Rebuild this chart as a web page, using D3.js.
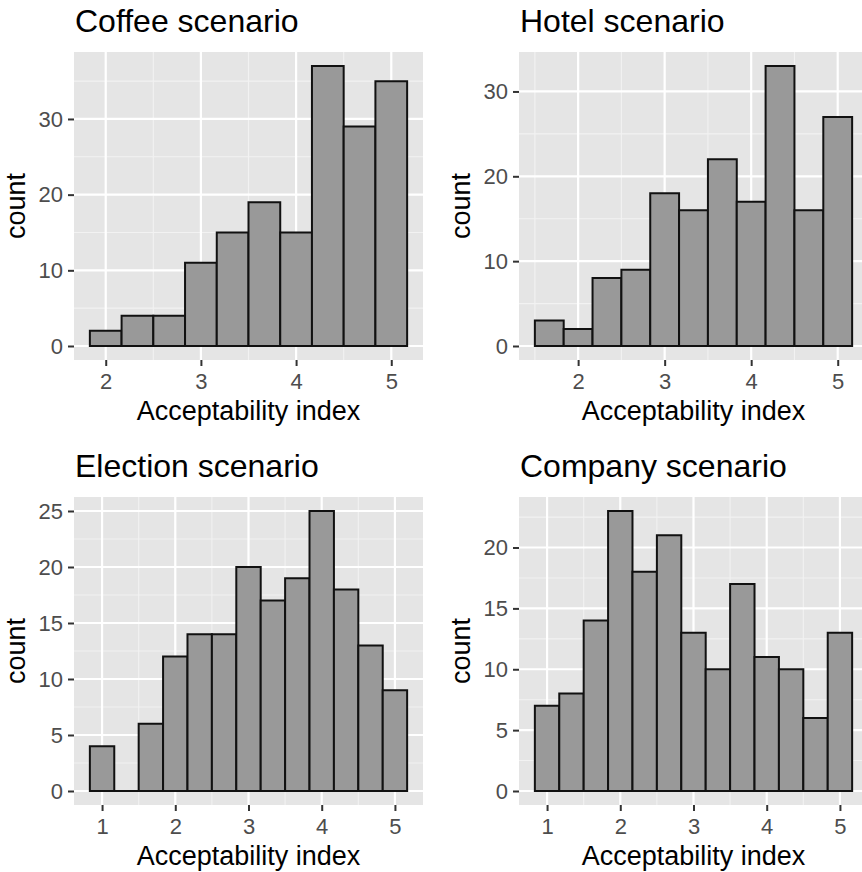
<!DOCTYPE html>
<html>
<head>
<meta charset="utf-8">
<script src="https://cdn.jsdelivr.net/npm/d3@7"></script>
<style>
  body { margin: 0; background: #fff; }
  svg { display: block; font-family: "Liberation Sans", Arial, sans-serif; }
</style>
</head>
<body>
<script>
// histogram bins (centres) and counts
var binWidth = 1 / 3;

var coffeeBins = [2, 2.3333, 2.6667, 3, 3.3333, 3.6667, 4, 4.3333, 4.6667, 5];
var coffeeCounts = [2, 4, 4, 11, 15, 19, 15, 37, 29, 35];

var hotelBins = [1.6667, 2, 2.3333, 2.6667, 3, 3.3333, 3.6667, 4, 4.3333, 4.6667, 5];
var hotelCounts = [3, 2, 8, 9, 18, 16, 22, 17, 33, 16, 27];

var electionBins = [1, 1.3333, 1.6667, 2, 2.3333, 2.6667, 3, 3.3333, 3.6667, 4, 4.3333, 4.6667, 5];
var electionCounts = [4, 0, 6, 12, 14, 14, 20, 17, 19, 25, 18, 13, 9];

var companyBins = [1, 1.3333, 1.6667, 2, 2.3333, 2.6667, 3, 3.3333, 3.6667, 4, 4.3333, 4.6667, 5];
var companyCounts = [7, 8, 14, 23, 18, 21, 13, 10, 17, 11, 10, 6, 13];

var coffeeXTicks = [2, 3, 4, 5], coffeeYTicks = [0, 10, 20, 30];
var hotelXTicks = [2, 3, 4, 5], hotelYTicks = [0, 10, 20, 30];
var electionXTicks = [1, 2, 3, 4, 5], electionYTicks = [0, 5, 10, 15, 20, 25];
var companyXTicks = [1, 2, 3, 4, 5], companyYTicks = [0, 5, 10, 15, 20];

var titles = ["Coffee scenario", "Hotel scenario", "Election scenario", "Company scenario"];

var W = 862, H = 872;
var pw = 349, ph = 308;

var panels = [
  {title: titles[0], bins: coffeeBins, counts: coffeeCounts, xt: coffeeXTicks, yt: coffeeYTicks, left: 74, top: 52},
  {title: titles[1], bins: hotelBins, counts: hotelCounts, xt: hotelXTicks, yt: hotelYTicks, left: 519, top: 52},
  {title: titles[2], bins: electionBins, counts: electionCounts, xt: electionXTicks, yt: electionYTicks, left: 74, top: 497},
  {title: titles[3], bins: companyBins, counts: companyCounts, xt: companyXTicks, yt: companyYTicks, left: 519, top: 497}
];

var svg = d3.select("body").append("svg")
  .attr("width", W)
  .attr("height", H);

function minors(majors, dom) {
  var step = majors[1] - majors[0];
  var out = [];
  var m = majors[0] - step / 2;
  while (m <= dom[1]) {
    if (m >= dom[0]) out.push(m);
    m += step;
  }
  return out;
}

panels.forEach(function(p) {
  var lo = d3.min(p.bins) - binWidth / 2, hi = d3.max(p.bins) + binWidth / 2;
  var ex = (hi - lo) * 0.05;
  var x = d3.scaleLinear().domain([lo - ex, hi + ex]).range([0, pw]);
  var ymax = d3.max(p.counts);
  var y = d3.scaleLinear().domain([-ymax * 0.05, ymax * 1.05]).range([ph, 0]);

  var g = svg.append("g")
    .attr("transform", "translate(" + p.left + "," + p.top + ")");

  // panel background
  g.append("rect")
    .attr("width", pw)
    .attr("height", ph)
    .attr("fill", "#e5e5e5");

  // grid lines, minor then major
  g.selectAll(".xminor").data(minors(p.xt, x.domain())).enter().append("line")
    .attr("x1", function(d) { return x(d); }).attr("x2", function(d) { return x(d); })
    .attr("y1", 0).attr("y2", ph)
    .attr("stroke", "#f2f2f2").attr("stroke-width", 1.1);
  g.selectAll(".yminor").data(minors(p.yt, y.domain())).enter().append("line")
    .attr("y1", function(d) { return y(d); }).attr("y2", function(d) { return y(d); })
    .attr("x1", 0).attr("x2", pw)
    .attr("stroke", "#f2f2f2").attr("stroke-width", 1.1);
  g.selectAll(".xmajor").data(p.xt).enter().append("line")
    .attr("x1", function(d) { return x(d); }).attr("x2", function(d) { return x(d); })
    .attr("y1", 0).attr("y2", ph)
    .attr("stroke", "#fff").attr("stroke-width", 2.2);
  g.selectAll(".ymajor").data(p.yt).enter().append("line")
    .attr("y1", function(d) { return y(d); }).attr("y2", function(d) { return y(d); })
    .attr("x1", 0).attr("x2", pw)
    .attr("stroke", "#fff").attr("stroke-width", 2.2);

  // bars as closed paths so empty bins still show their outline
  g.selectAll(".bar").data(p.bins).enter().append("path")
    .attr("d", function(d, i) {
      var x0 = x(d - binWidth / 2), x1 = x(d + binWidth / 2);
      var y0 = y(0), y1 = y(p.counts[i]);
      return "M" + x0 + "," + y0 + "L" + x0 + "," + y1 + "L" + x1 + "," + y1 + "L" + x1 + "," + y0 + "Z";
    })
    .attr("fill", "#999999")
    .attr("stroke", "#111")
    .attr("stroke-width", 2)
    .attr("stroke-linejoin", "miter");

  // axes
  var xa = g.append("g")
    .attr("transform", "translate(0," + ph + ")")
    .call(d3.axisBottom(x).tickValues(p.xt).tickSize(6).tickPadding(7).tickFormat(d3.format("d")));
  var ya = g.append("g")
    .call(d3.axisLeft(y).tickValues(p.yt).tickSize(6).tickPadding(5).tickFormat(d3.format("d")));
  [xa, ya].forEach(function(a) {
    a.select(".domain").remove();
    a.selectAll(".tick line").attr("stroke", "#333").attr("stroke-width", 2);
    a.selectAll(".tick text")
      .attr("fill", "#4d4d4d")
      .style("font-size", "22px")
      .style("font-family", "'Liberation Sans', Arial, sans-serif");
  });

  // titles
  g.append("text")
    .attr("x", 1)
    .attr("y", -20)
    .attr("font-size", 32)
    .attr("fill", "#000")
    .text(p.title);

  g.append("text")
    .attr("x", pw / 2)
    .attr("y", ph + 60)
    .attr("text-anchor", "middle")
    .attr("font-size", 27)
    .attr("fill", "#000")
    .text("Acceptability index");

  g.append("text")
    .attr("transform", "translate(-49," + (ph / 2) + ") rotate(-90)")
    .attr("text-anchor", "middle")
    .attr("font-size", 27)
    .attr("fill", "#000")
    .text("count");
});
</script>
</body>
</html>
